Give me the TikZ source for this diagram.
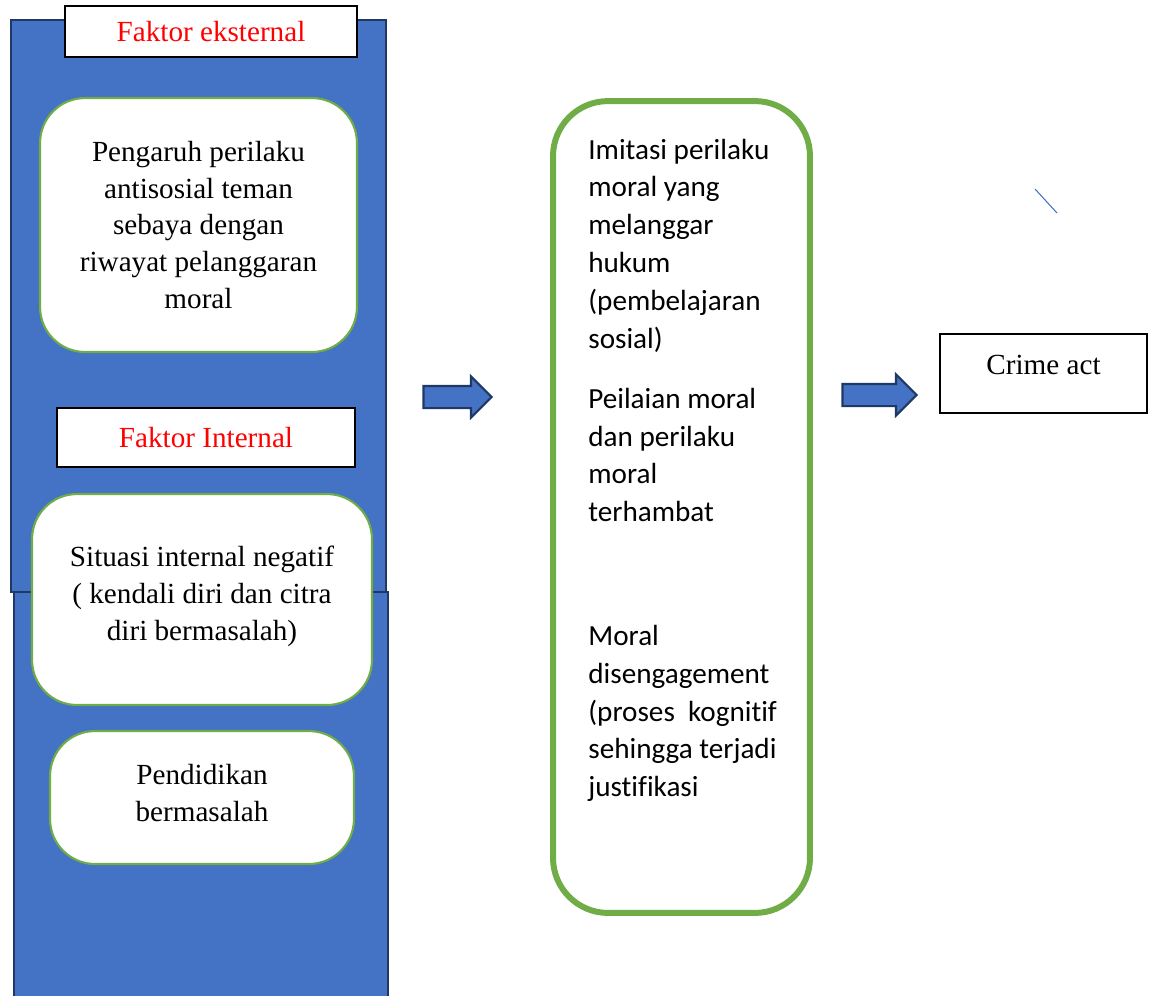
\documentclass[tikz,border=0pt]{standalone}
\usepackage{fontspec}
\setmainfont{Liberation Serif}
\newfontfamily\calibri[Ligatures=CommonOff]{Carlito}
\usetikzlibrary{shapes.arrows}
\definecolor{panelblue}{HTML}{4472C4}
\definecolor{paneledge}{HTML}{203864}
\definecolor{boxgreen}{HTML}{70AD47}
\begin{document}
\begin{tikzpicture}[x=0.02cm, y=-0.02cm,
        panel/.style={fill=panelblue,draw=paneledge,line width=1pt},
        heading/.style={rectangle,draw=black,fill=white,line width=0.8pt,text=red,inner sep=0pt,font=\fontsize{16.6}{21}\selectfont},
        factor/.style={rectangle,draw=boxgreen,fill=white,line width=1.2pt,rounded corners=0.9cm,align=center,inner sep=0pt,font=\fontsize{16.6}{21}\selectfont},
        stagetext/.style={anchor=west,align=left,inner sep=0pt,font=\calibri\fontsize{16.6}{21.5}\selectfont},
        blockarrow/.style={single arrow,draw=paneledge,fill=panelblue,line width=1.2pt,inner sep=0pt,text height=0.4cm,text depth=0pt,minimum height=1.36cm,minimum width=0.8cm,single arrow head extend=0.19cm}
        ]
    \useasboundingbox (0,0) rectangle (1149,995);

    % left column
    \path[panel] (14,592) rectangle (388,1005);
    \path[panel] (11,20) rectangle (386,592);

    \node (ext) at (211, 31.5) [heading,minimum width=5.84cm,minimum height=1.02cm] {Faktor eksternal};
    \node (peer) at (198.5, 225) [factor,minimum width=6.34cm,minimum height=5.08cm] {Pengaruh perilaku\\antisosial teman\\sebaya dengan\\riwayat pelanggaran\\moral};
    \node (int) at (206, 437.5) [heading,minimum width=5.96cm,minimum height=1.18cm] {Faktor Internal};
    \node (self) at (202, 599.5) [factor,minimum width=6.8cm,minimum height=4.22cm,text depth=0.25cm] {Situasi internal negatif\\( kendali diri dan citra\\diri bermasalah)};
    \node (edu) at (202, 797.5) [factor,minimum width=6.08cm,minimum height=2.66cm,text depth=0.2cm] {Pendidikan\\bermasalah};

    % process
    \node (arrA) at (452, 397) [blockarrow] {};
    \node (stage) at (681.5, 507) [rectangle,draw=boxgreen,line width=3.4pt,rounded corners=1.1cm,minimum width=5.14cm,minimum height=16.24cm] {};
    \node (imit) at (588, 245.5) [stagetext] {Imitasi perilaku\\moral yang\\melanggar\\hukum\\(pembelajaran\\sosial)};
    \node (judg) at (588, 455) [stagetext] {Peilaian moral\\dan perilaku\\moral\\terhambat};
    \node (dise) at (588, 713.5) [stagetext] {Moral\\disengagement\\(proses\ \ kognitif\\sehingga terjadi\\justifikasi};

    \node (arrB) at (874, 395) [blockarrow,minimum height=1.48cm] {};
    \node (crime) at (1043.5, 373.5) [rectangle,draw=black,line width=0.8pt,minimum width=4.14cm,minimum height=1.58cm,text depth=0.34cm,font=\fontsize{16.6}{21}\selectfont] {Crime act};

    \coordinate (tickA) at (1035, 189);
    \coordinate (tickB) at (1057, 213);
    \draw[panelblue,line width=0.6pt] (tickA) -- (tickB);
\end{tikzpicture}
\end{document}
